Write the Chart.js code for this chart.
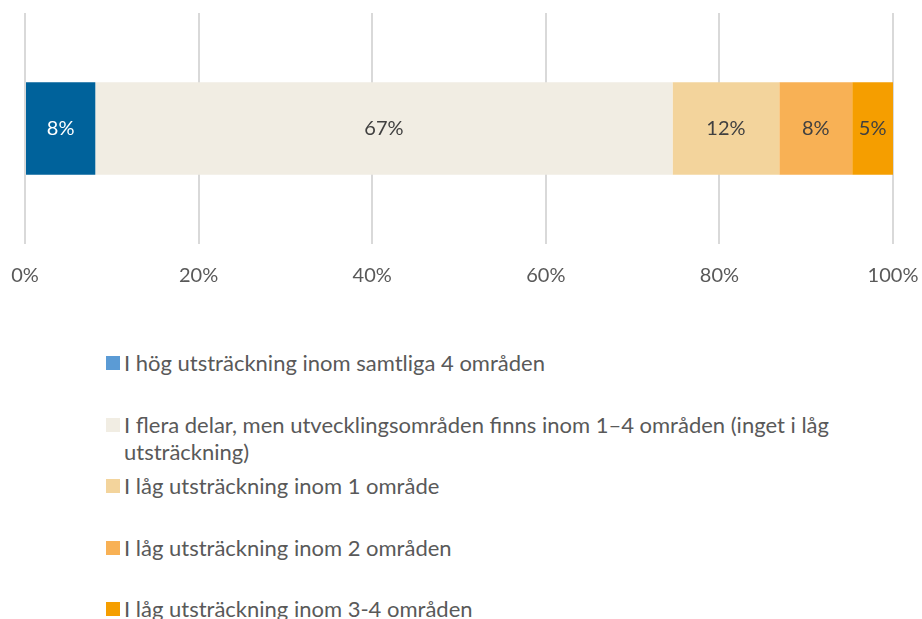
<!DOCTYPE html>
<html>
<head>
<meta charset="utf-8">
<script src="https://cdn.jsdelivr.net/npm/chart.js@4/dist/chart.umd.min.js"></script>
<style>
  body { margin: 0; background: #fff; font-family: Lato, "Open Sans", sans-serif; }
  #wrap { position: relative; width: 922px; height: 619px; overflow: hidden; }
  #chartBox { position: absolute; left: 0; top: 0; width: 922px; height: 320px; }
  #legend { position: absolute; left: 106px; top: 349px; width: 780px; }
  .item { position: relative; height: 61.5px; color: #595959; font-size: 22px; line-height: 27px; }
  .sq { position: absolute; left: 0; top: 7px; width: 14px; height: 14px; }
  .txt { position: absolute; left: 18px; top: 0; width: 740px; }
</style>
</head>
<body>
<div id="wrap">
  <div id="chartBox"><canvas id="barChart"></canvas></div>
  <div id="legend"></div>
</div>
<script>
const seriesNames = [
  "I hög utsträckning inom samtliga 4 områden",
  "I flera delar, men utvecklingsområden finns inom 1–4 områden (inget i låg utsträckning)",
  "I låg utsträckning inom 1 område",
  "I låg utsträckning inom 2 områden",
  "I låg utsträckning inom 3-4 områden"
];
const seriesValues = [8.1, 66.5, 12.3, 8.4, 4.7];
const barColors = ['#00629b', '#f1ede3', '#f3d49c', '#f8b155', '#f59e00'];
const legendColors = ['#5b9bd5', '#f1ede3', '#f3d49c', '#f8b155', '#f59e00'];
const labelColors = ['#ffffff', '#404040', '#404040', '#404040', '#404040'];
const xTicks = [0, 20, 40, 60, 80, 100];

// value labels inside each segment
const barLabels = {
  id: 'barLabels',
  afterDatasetsDraw(chart) {
    const ctx = chart.ctx;
    ctx.save();
    ctx.font = '20px Lato, "Open Sans", sans-serif';
    ctx.textAlign = 'center';
    ctx.textBaseline = 'middle';
    chart.data.datasets.forEach((ds, i) => {
      const bar = chart.getDatasetMeta(i).data[0];
      const cx = (bar.x + bar.base) / 2;
      ctx.fillStyle = labelColors[i];
      ctx.fillText(Math.round(ds.data[0]) + '%', cx, bar.y);
    });
    ctx.restore();
  }
};

new Chart(document.getElementById('barChart'), {
  type: 'bar',
  data: {
    labels: [''],
    datasets: seriesNames.map((name, i) => ({
      label: name,
      data: [seriesValues[i]],
      backgroundColor: barColors[i],
      barPercentage: 0.4,
      categoryPercentage: 1
    }))
  },
  options: {
    indexAxis: 'y',
    responsive: true,
    maintainAspectRatio: false,
    animation: false,
    layout: { padding: { left: 25, right: 29, top: 13, bottom: 12 } },
    plugins: { legend: { display: false }, tooltip: { enabled: false } },
    scales: {
      x: {
        stacked: true,
        min: 0,
        max: 100,
        afterBuildTicks: axis => { axis.ticks = xTicks.map(v => ({ value: v })); },
        // labels may hang over the plot edges, like the original
        afterFit: axis => { axis.paddingLeft = 0; axis.paddingRight = 0; },
        border: { display: false },
        grid: { color: '#d9d9d9', lineWidth: 2, drawTicks: false },
        ticks: {
          padding: 20,
          color: '#595959',
          font: { family: 'Lato, "Open Sans", sans-serif', size: 20 },
          callback: v => v + '%'
        }
      },
      y: { stacked: true, display: false }
    }
  },
  plugins: [barLabels]
});

const legend = document.getElementById('legend');
seriesNames.forEach((name, i) => {
  const row = document.createElement('div');
  row.className = 'item';
  row.innerHTML = '<span class="sq" style="background:' + legendColors[i] + '"></span><span class="txt"></span>';
  row.querySelector('.txt').textContent = name;
  legend.appendChild(row);
});
</script>
</body>
</html>
